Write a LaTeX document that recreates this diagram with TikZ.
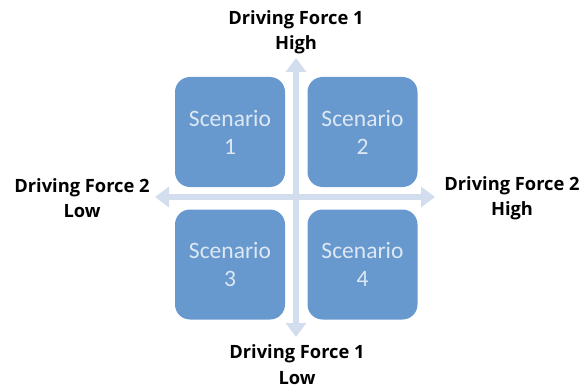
\documentclass[tikz,border=0pt]{standalone}
\usepackage{fontspec}
\setmainfont{Open Sans}
\newfontfamily\boxfont{Carlito}
\usetikzlibrary{arrows.meta,positioning}
\definecolor{boxblue}{RGB}{103,153,206}
\definecolor{axisblue}{RGB}{210,222,238}
\definecolor{boxtext}{RGB}{222,232,244}

\begin{document}
\begin{tikzpicture}[x=1pt,y=1pt,
		scen/.style={rounded corners=15pt,fill=boxblue,minimum size=110pt,inner sep=0pt,
			text=boxtext,font=\boxfont\fontsize{23.5}{28}\selectfont,align=center},
		force/.style={font=\bfseries\fontsize{18.3}{25.5}\selectfont,align=center,text=black,inner sep=1pt},
		axis/.style={axisblue,line width=6pt,
			{Triangle[width=20pt,length=14pt]}-{Triangle[width=20pt,length=14pt]}}
	]
		\useasboundingbox (0,0) rectangle (584,389);
		% axes
		\coordinate (top) at (296,331);
		\coordinate (bottom) at (296,52);
		\coordinate (left) at (155,192);
		\coordinate (right) at (435,192);
		\draw[axis] (bottom) -- (top);
		\draw[axis] (left) -- (right);
		% scenarios
		\node[scen] (s1) at (230,257) {Scenario\\1};
		\node[scen] (s2) at (362.5,257) {Scenario\\2};
		\node[scen] (s3) at (230,124.5) {Scenario\\3};
		\node[scen] (s4) at (362.5,124.5) {Scenario\\4};
		% labels
		\node[force] (f1high) at (296,357) {Driving Force 1\\High};
		\node[force] (f1low) at (297,24.5) {Driving Force 1\\Low};
		\node[force] (f2low) at (82,191) {Driving Force 2\\Low};
		\node[force] (f2high) at (512,191) {Driving Force 2\\High};
	\end{tikzpicture}
\end{document}
